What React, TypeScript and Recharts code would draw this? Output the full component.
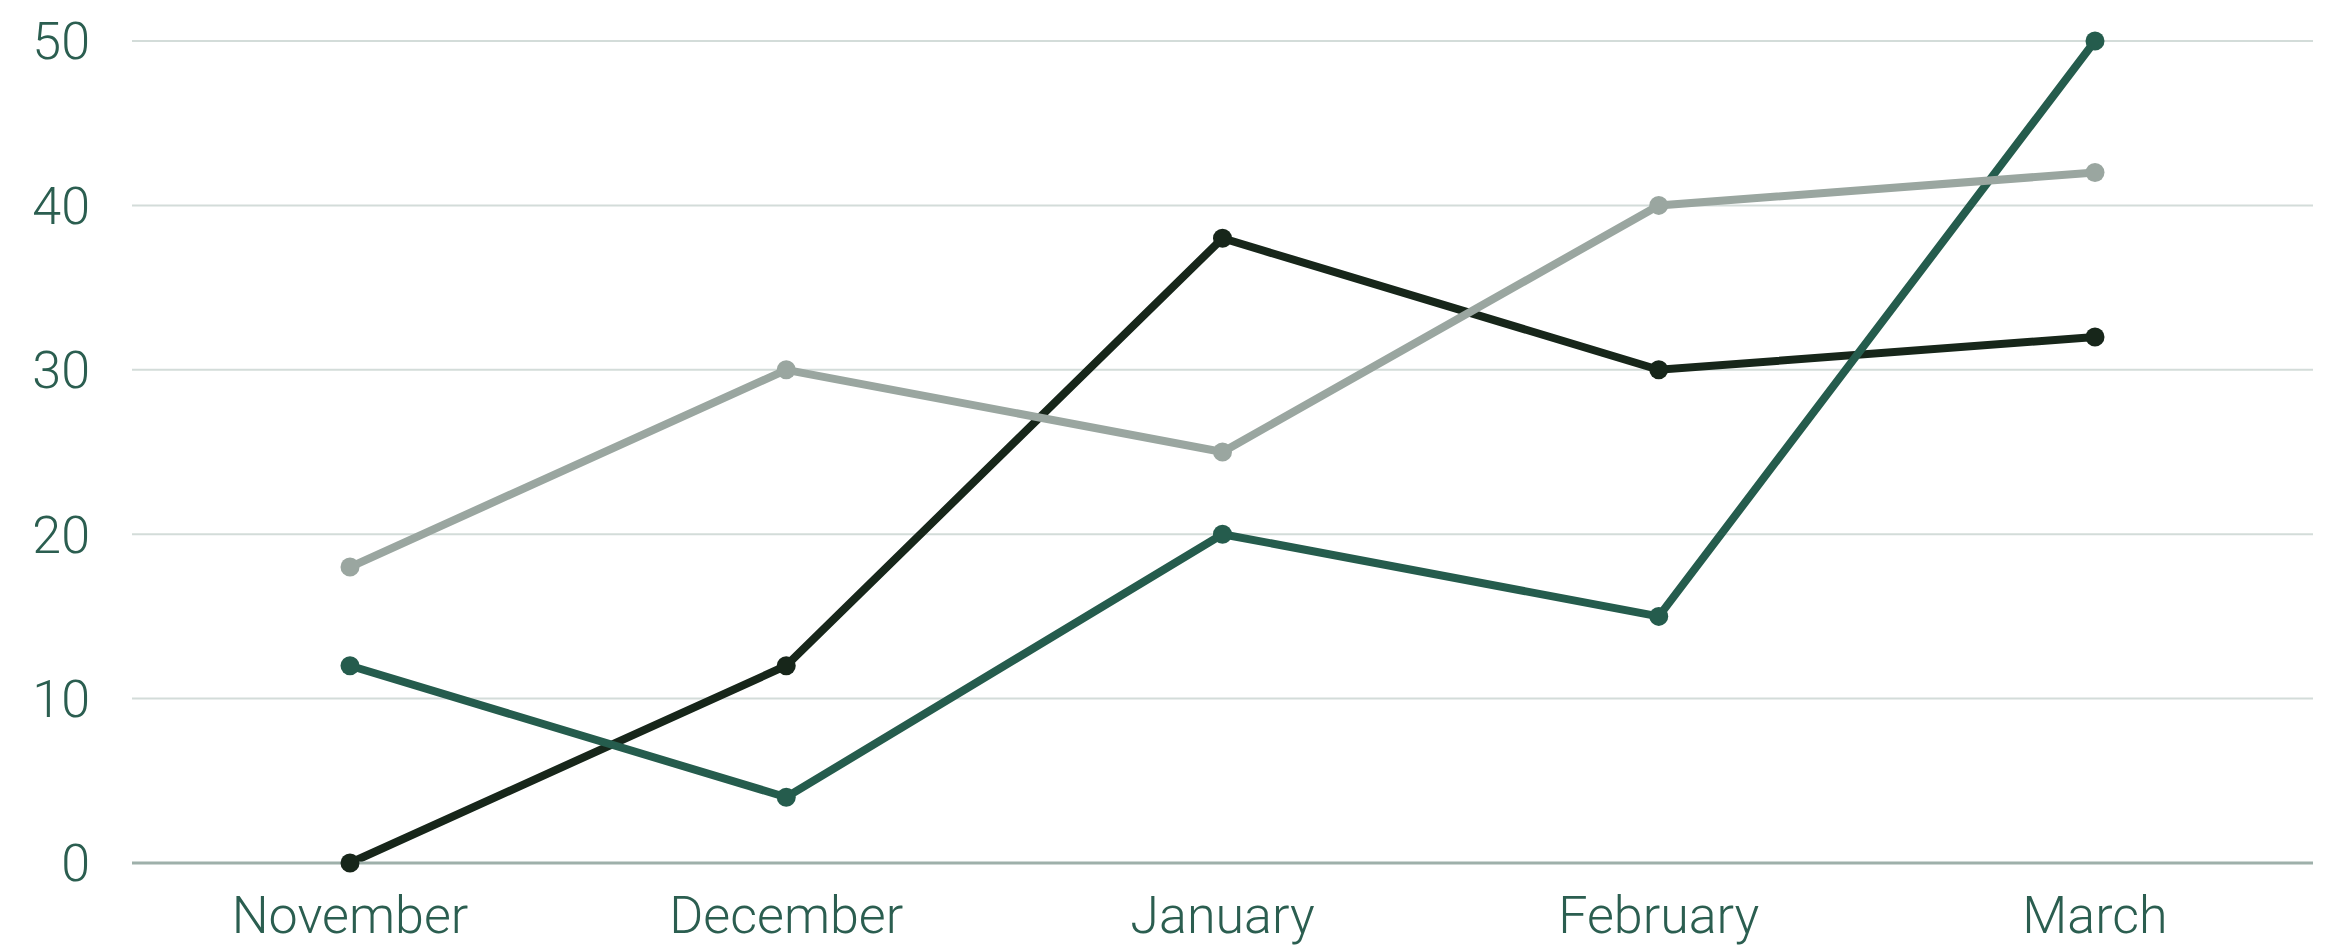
import React from "react";
import { LineChart, Line, XAxis, YAxis, CartesianGrid } from "recharts";

const months = ["November", "December", "January", "February", "March"];
const greenSeries = [12, 4, 20, 15, 50];
const darkSeries = [0, 12, 38, 30, 32];
const graySeries = [18, 30, 25, 40, 42];
const yTicks = [0, 10, 20, 30, 40, 50];

const data = months.map((month, i) => ({
  month,
  green: greenSeries[i],
  dark: darkSeries[i],
  gray: graySeries[i],
}));

const textColor = "#2b5e50";
const font = "Roboto, 'Liberation Sans', sans-serif";

const App: React.FC = () => {
  return (
    <div style={{ width: 2344, height: 952 }}>
      <style>{`body { margin: 0; }`}</style>
      <LineChart
        width={2344}
        height={952}
        data={data}
        margin={{ top: 41, right: 31, bottom: 0, left: 0 }}
      >
        <CartesianGrid vertical={false} stroke="#d3dcd9" strokeWidth={2} />
        <XAxis
          dataKey="month"
          padding={{ left: 218, right: 218 }}
          axisLine={{ stroke: "#9eb0aa", strokeWidth: 3 }}
          tickLine={false}
          tickSize={0}
          tickMargin={33}
          tick={{ fill: textColor, fontSize: 52, fontFamily: font, fontWeight: 300 }}
          height={89}
        />
        <YAxis
          domain={[0, 50]}
          ticks={yTicks}
          width={132}
          axisLine={false}
          tickLine={false}
          tickSize={0}
          tickMargin={42}
          tick={{ fill: textColor, fontSize: 52, fontFamily: font, fontWeight: 300 }}
        />
        <Line
          type="linear"
          dataKey="dark"
          stroke="#17261a"
          strokeWidth={8}
          dot={{ r: 9.5, fill: "#17261a", stroke: "none" }}
          isAnimationActive={false}
        />
        <Line
          type="linear"
          dataKey="green"
          stroke="#255c4d"
          strokeWidth={8}
          dot={{ r: 9.5, fill: "#255c4d", stroke: "none" }}
          isAnimationActive={false}
        />
        <Line
          type="linear"
          dataKey="gray"
          stroke="#9aa6a0"
          strokeWidth={8}
          dot={{ r: 9.5, fill: "#9aa6a0", stroke: "none" }}
          isAnimationActive={false}
        />
      </LineChart>
    </div>
  );
};

export default App;
